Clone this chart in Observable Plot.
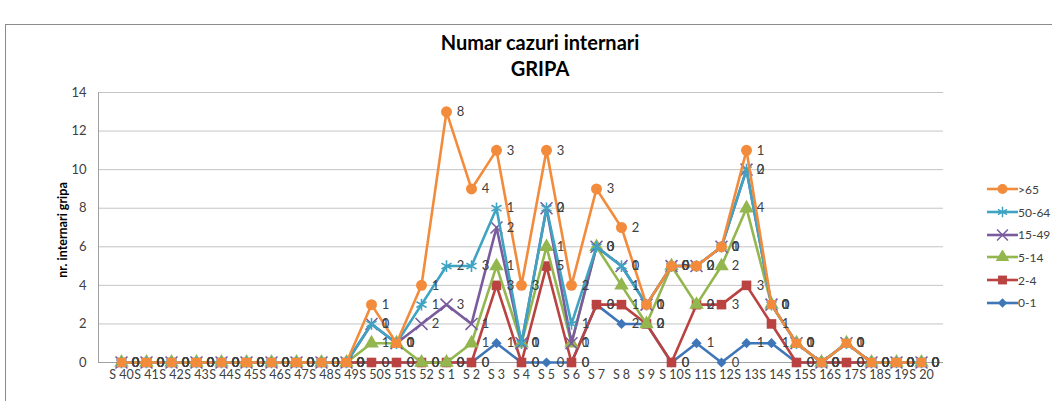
<!DOCTYPE html>
<html>
<head>
<meta charset="utf-8">
<script src="https://cdn.jsdelivr.net/npm/d3@7"></script>
<script src="https://cdn.jsdelivr.net/npm/@observablehq/plot@0.6"></script>
<style>
  html, body { margin: 0; padding: 0; background: #fff; }
  #wrap { position: relative; width: 1052px; height: 401px; overflow: hidden; font-family: Lato, "Open Sans", sans-serif; }
  #border { position: absolute; left: 5px; top: 24px; width: 1100px; height: 500px; border-left: 1px solid #8c8c8c; border-top: 1px solid #8c8c8c; }
  #chart { position: absolute; left: 0; top: 0; }
  .title { position: absolute; left: 340px; width: 400px; text-align: center; font-weight: bold; color: #000; font-size: 20px; }
  #ytitle { position: absolute; left: 62px; top: 230px; transform: translate(-50%, -50%) rotate(-90deg); font-weight: bold; font-size: 12.5px; white-space: nowrap; color: #000; }
  #legend { position: absolute; left: 984px; top: 178px; width: 68px; }
  .lg { display: flex; align-items: center; height: 22.7px; font-size: 12px; color: #404040; white-space: nowrap; }
  .lg svg { flex: none; }
</style>
</head>
<body>
<div id="wrap">
  <div id="border"></div>
  <div id="chart"></div>
  <div class="title" style="top:30px">Numar cazuri internari</div>
  <div class="title" style="top:56px">GRIPA</div>
  <div id="ytitle">nr. internari gripa</div>
  <div id="legend"></div>
</div>
<script>
const weeks = ["S 40","S 41","S 42","S 43","S 44","S 45","S 46","S 47","S 48","S 49","S 50","S 51","S 52",
  "S 1","S 2","S 3","S 4","S 5","S 6","S 7","S 8","S 9","S 10","S 11","S 12","S 13","S 14","S 15","S 16","S 17","S 18","S 19","S 20"];
// individual values per age group (stacked in the chart)
//                 S40..S49              S50 S51 S52 S1 S2 S3 S4 S5 S6 S7 S8 S9 S10 S11 S12 S13 S14 S15 S16 S17 S18 S19 S20
const age0_1   = [0,0,0,0,0,0,0,0,0,0,   0, 0, 0,  0, 0, 1, 0, 0, 0, 3, 2, 2, 0,  1,  0,  1,  1,  0,  0,  0,  0,  0,  0];
const age2_4   = [0,0,0,0,0,0,0,0,0,0,   0, 0, 0,  0, 0, 3, 0, 5, 0, 0, 1, 0, 0,  2,  3,  3,  1,  0,  0,  0,  0,  0,  0];
const age5_14  = [0,0,0,0,0,0,0,0,0,0,   1, 1, 0,  0, 1, 1, 1, 1, 1, 3, 1, 0, 5,  0,  2,  4,  1,  1,  0,  1,  0,  0,  0];
const age15_49 = [0,0,0,0,0,0,0,0,0,0,   1, 0, 2,  3, 1, 2, 0, 2, 0, 0, 1, 1, 0,  2,  1,  2,  0,  0,  0,  0,  0,  0,  0];
const age50_64 = [0,0,0,0,0,0,0,0,0,0,   0, 0, 1,  2, 3, 1, 0, 0, 1, 0, 0, 0, 0,  0,  0,  0,  0,  0,  0,  0,  0,  0,  0];
const age65    = [0,0,0,0,0,0,0,0,0,0,   1, 0, 1,  8, 4, 3, 3, 3, 2, 3, 2, 0, 0,  0,  0,  1,  0,  0,  0,  0,  0,  0,  0];

const seriesNames = ["0-1","2-4","5-14","15-49","50-64",">65"];
const seriesValues = [age0_1, age2_4, age5_14, age15_49, age50_64, age65];
const colors = ["#3F76B8","#BA4240","#93B64E","#7A5C9E","#3FA3C2","#F28C3C"];
const symbols = ["diamond2","square","triangle","times","asterisk","circle"];
const filledSym = [true,true,true,false,false,true];
const yTicks = [0,2,4,6,8,10,12,14];

// build stacked rows
const rows = [];
const cum = weeks.map(() => 0);
seriesValues.forEach((vals, si) => {
  weeks.forEach((w, j) => {
    cum[j] += vals[j];
    rows.push({week: w, series: seriesNames[si], si, value: vals[j], top: cum[j], idx: j});
  });
});
// >65 markers drawn as squares in the quiet weeks (only lower groups present)
function isSquare65(r) {
  const j = r.idx;
  return age65[j] === 0 && age50_64[j] === 0 && age15_49[j] === 0 && r.top <= 3;
}

const marks = [
  Plot.ruleY(yTicks, {stroke: "#c4c4c4", strokeWidth: 1}),
  Plot.frame({anchor: "left", stroke: "#a0a0a0"}),
  Plot.ruleY([0], {stroke: "#a0a0a0"})
];
seriesNames.forEach((name, si) => {
  const data = rows.filter(r => r.si === si);
  marks.push(Plot.line(data, {x: "week", y: "top", stroke: colors[si], strokeWidth: 2.6}));
  if (si === 5) {
    marks.push(Plot.dot(data.filter(r => !isSquare65(r)), {x: "week", y: "top", symbol: "circle", r: 5.5, fill: colors[si], stroke: "none"}));
    marks.push(Plot.dot(data.filter(r => isSquare65(r)), {x: "week", y: "top", symbol: "square", r: 5.2, fill: colors[si], stroke: "none"}));
  } else if (filledSym[si]) {
    marks.push(Plot.dot(data, {x: "week", y: "top", symbol: symbols[si], r: si === 0 ? 4.6 : 5.4, fill: colors[si], stroke: "none"}));
  } else {
    marks.push(Plot.dot(data, {x: "week", y: "top", symbol: symbols[si], r: 5.5, fill: "none", stroke: colors[si], strokeWidth: 1.6}));
  }
});
marks.push(Plot.text(rows, {x: "week", y: "top", text: "value", dx: 14, textAnchor: "middle", fill: "#404040", fontSize: 13}));
marks.push(Plot.axisY({ticks: yTicks, tickSize: 0, tickPadding: 12, label: null, fontSize: 13, fill: "#404040"}));
marks.push(Plot.axisX({tickSize: 0, tickPadding: 8, label: null, fontSize: 12.5, fill: "#404040"}));

const chart = Plot.plot({
  width: 1052,
  height: 401,
  marginTop: 92,
  marginBottom: 39,
  marginLeft: 98,
  marginRight: 109,
  x: {type: "point", domain: weeks, padding: 0.5, axis: null},
  y: {domain: [0, 14], axis: null},
  style: {fontFamily: "Lato, 'Open Sans', sans-serif", background: "transparent", overflow: "visible"},
  marks
});
document.getElementById("chart").appendChild(chart);

// legend (top series first)
const legend = d3.select("#legend");
[5,4,3,2,1,0].forEach(si => {
  const item = legend.append("div").attr("class", "lg");
  const svg = item.append("svg").attr("width", 34).attr("height", 14);
  svg.append("line").attr("x1", 3).attr("x2", 34).attr("y1", 7).attr("y2", 7)
    .attr("stroke", colors[si]).attr("stroke-width", 2.6);
  const symMap = {diamond2: d3.symbolDiamond2, square: d3.symbolSquare, triangle: d3.symbolTriangle,
                  times: d3.symbolTimes, asterisk: d3.symbolAsterisk, circle: d3.symbolCircle};
  const r = si === 0 ? 4.2 : 5;
  const p = svg.append("path").attr("transform", "translate(18.5,7)")
    .attr("d", d3.symbol(symMap[symbols[si]], r * r * Math.PI)());
  if (filledSym[si]) p.attr("fill", colors[si]);
  else p.attr("fill", "none").attr("stroke", colors[si]).attr("stroke-width", 1.5);
  item.append("span").text(seriesNames[si]);
});
</script>
</body>
</html>
